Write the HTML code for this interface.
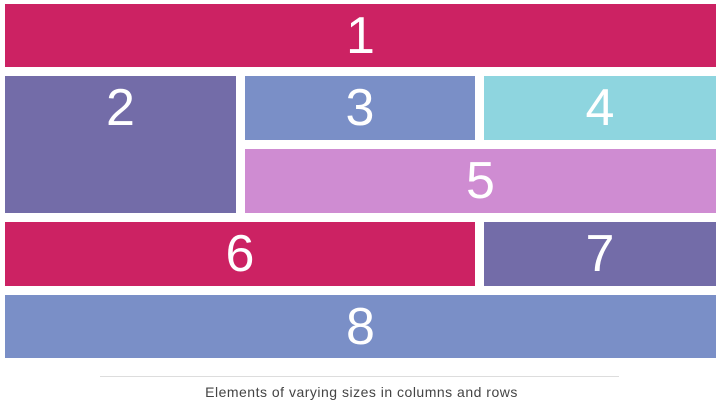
<!DOCTYPE html>
<html><head><meta charset="utf-8"><style>
body{margin:0;width:723px;height:402px;background:#fff;position:relative;overflow:hidden;font-family:"Liberation Sans",sans-serif}
.b{position:absolute;color:#fff;font-size:52px;text-align:center;line-height:64px}
#cap{position:absolute;left:0;width:723px;top:384px;text-align:center;font-size:14px;letter-spacing:0.5px;color:#444}
#ln{position:absolute;left:100px;width:519px;top:376px;height:1px;background:#ddd}
</style></head><body>
<div class="b" style="left:5px;top:4px;width:711px;height:63px;background:#cc2263">1</div>
<div class="b" style="left:5px;top:76px;width:231px;height:137px;background:#736ca8">2</div>
<div class="b" style="left:245px;top:76px;width:230px;height:64px;background:#7a8fc7">3</div>
<div class="b" style="left:484px;top:76px;width:232px;height:64px;background:#8ed5df">4</div>
<div class="b" style="left:245px;top:149px;width:471px;height:64px;background:#cf8cd2">5</div>
<div class="b" style="left:5px;top:222px;width:470px;height:64px;background:#cc2263">6</div>
<div class="b" style="left:484px;top:222px;width:232px;height:64px;background:#736ca8">7</div>
<div class="b" style="left:5px;top:295px;width:711px;height:63px;background:#7a8fc7">8</div>
<div id="ln"></div>
<div id="cap">Elements of varying sizes in columns and rows</div>
</body></html>
